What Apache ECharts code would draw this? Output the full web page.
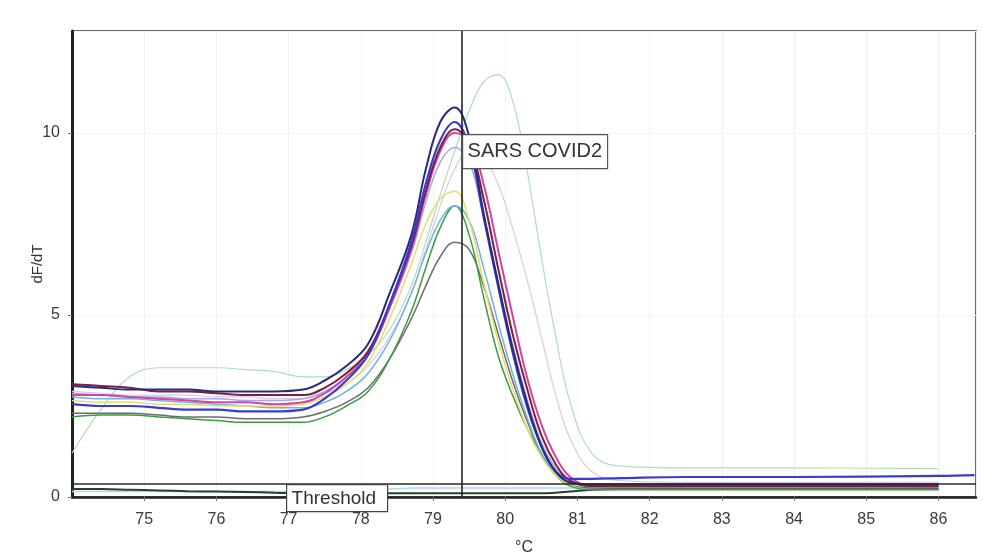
<!DOCTYPE html>
<html>
<head>
<meta charset="utf-8">
<script src="https://cdn.jsdelivr.net/npm/echarts@6/dist/echarts.min.js"></script>
<style>
  html, body { margin: 0; padding: 0; background: #fff; }
  #chart { width: 983px; height: 555px; }
</style>
</head>
<body>
<div id="chart"></div>
<script>
// temperatures (°C) the curves are sampled at
const temps = [74.0, 74.4, 74.8, 75.2, 75.6, 76.0, 76.4, 76.8, 77.2, 77.5, 77.8, 78.1, 78.4, 78.7, 78.9,
  79.1, 79.3, 79.5, 79.7, 79.9, 80.1, 80.3, 80.5, 80.7, 80.9, 81.2, 81.6, 82.5, 84.0, 86.0, 86.5];

// dF/dT melt curves
const lightGreen = [1.2, 2.4, 3.3, 3.55, 3.55, 3.55, 3.5, 3.45, 3.3, 3.3, 3.5, 3.9, 4.6, 5.8, 7.0,
  8.3, 9.5, 10.6, 11.4, 11.6, 10.9, 9.0, 6.6, 4.4, 2.6, 1.2, 0.85, 0.8, 0.8, 0.78, null];
const paleLilac = [2.9, 2.85, 2.8, 2.8, 2.8, 2.75, 2.75, 2.7, 2.7, 2.85, 3.1, 3.6, 4.4, 5.6, 6.8,
  8.0, 9.0, 9.5, 9.3, 8.6, 7.4, 6.0, 4.4, 2.8, 1.6, 0.7, 0.45, 0.4, 0.4, 0.4, null];
const gray = [2.3, 2.3, 2.3, 2.25, 2.2, 2.2, 2.15, 2.15, 2.2, 2.35, 2.6, 3.0, 3.8, 4.9, 5.8,
  6.6, 7.0, 6.8, 5.8, 4.5, 3.2, 2.1, 1.2, 0.6, 0.35, 0.25, 0.25, 0.25, 0.25, 0.25, null];
const green = [2.2, 2.25, 2.25, 2.2, 2.15, 2.1, 2.05, 2.05, 2.05, 2.2, 2.5, 2.9, 3.8, 5.1, 6.3,
  7.4, 8.0, 7.2, 5.5, 3.9, 2.8, 1.9, 1.2, 0.6, 0.3, 0.2, 0.2, 0.2, 0.2, 0.2, null];
const lightBlue = [2.75, 2.7, 2.7, 2.65, 2.6, 2.55, 2.5, 2.45, 2.45, 2.6, 2.9, 3.4, 4.3, 5.6, 6.7,
  7.6, 8.0, 7.6, 6.3, 4.8, 3.4, 2.2, 1.2, 0.65, 0.4, 0.3, 0.3, 0.3, 0.3, 0.3, null];
const yellow = [2.65, 2.6, 2.6, 2.55, 2.55, 2.5, 2.5, 2.5, 2.55, 2.75, 3.1, 3.7, 4.9, 6.4, 7.5,
  8.2, 8.4, 7.6, 5.9, 4.3, 3.0, 1.9, 1.1, 0.6, 0.35, 0.3, 0.3, 0.3, 0.3, 0.3, null];
const lavender = [2.85, 2.8, 2.75, 2.75, 2.7, 2.7, 2.65, 2.65, 2.7, 2.9, 3.3, 4.0, 5.2, 6.7, 8.1,
  9.2, 9.6, 9.2, 7.7, 5.9, 4.2, 2.7, 1.5, 0.8, 0.45, 0.35, 0.35, 0.35, 0.35, 0.35, null];
const magenta = [2.8, 2.8, 2.75, 2.7, 2.65, 2.6, 2.6, 2.55, 2.6, 2.85, 3.3, 3.9, 5.2, 6.8, 8.3,
  9.5, 10.0, 9.8, 8.6, 6.8, 5.0, 3.3, 2.0, 1.1, 0.55, 0.3, 0.3, 0.3, 0.3, 0.28, null];
const maroon = [3.1, 3.05, 3.0, 2.9, 2.9, 2.85, 2.8, 2.8, 2.8, 3.0, 3.4, 4.0, 5.3, 6.9, 8.4,
  9.6, 10.1, 9.7, 8.2, 6.3, 4.5, 3.0, 1.7, 0.9, 0.45, 0.3, 0.3, 0.3, 0.3, 0.3, null];
const blue = [2.55, 2.5, 2.5, 2.45, 2.4, 2.4, 2.35, 2.35, 2.4, 2.7, 3.2, 3.9, 5.3, 7.0, 8.6,
  9.8, 10.3, 9.6, 7.7, 5.8, 4.0, 2.5, 1.4, 0.7, 0.5, 0.5, 0.52, 0.55, 0.55, 0.58, 0.6];
const navy = [3.05, 3.0, 2.95, 2.95, 2.95, 2.9, 2.9, 2.9, 2.95, 3.2, 3.6, 4.2, 5.6, 7.2, 9.0,
  10.3, 10.7, 9.9, 7.8, 5.9, 4.1, 2.6, 1.4, 0.7, 0.4, 0.35, 0.35, 0.35, 0.35, 0.35, null];
// negative wells near zero
const darkFlat = [0.22, 0.22, 0.2, 0.18, 0.16, 0.15, 0.14, 0.12, 0.1, 0.1, 0.1, 0.1, 0.1, 0.1, 0.1,
  0.1, 0.1, 0.1, 0.1, 0.1, 0.1, 0.1, 0.1, 0.12, 0.15, 0.2, 0.22, 0.22, 0.22, 0.22, null];
const cyanFlat = [0.15, 0.15, 0.15, 0.15, 0.15, 0.15, 0.15, 0.15, 0.15, 0.18, 0.2, 0.2, 0.22, 0.25, 0.25,
  0.25, 0.25, 0.25, 0.25, 0.25, 0.25, 0.25, 0.25, 0.25, 0.25, 0.25, 0.25, 0.25, null, null, null];

const thresholdValue = 0.36;
const markerTemp = 79.4;

const curves = [
  { name: 'cyanFlat', values: cyanFlat, color: '#a8dcec', width: 1.5 },
  { name: 'darkFlat', values: darkFlat, color: '#25402f', width: 2 },
  { name: 'lightGreen', values: lightGreen, color: '#aedcbc', width: 1.2 },
  { name: 'paleLilac', values: paleLilac, color: '#dcc8e4', width: 1.2 },
  { name: 'gray', values: gray, color: '#6c6c6c', width: 1.5 },
  { name: 'green', values: green, color: '#3c9a42', width: 1.5 },
  { name: 'lightBlue', values: lightBlue, color: '#72b2e0', width: 1.5 },
  { name: 'yellow', values: yellow, color: '#e6dc6e', width: 1.5 },
  { name: 'lavender', values: lavender, color: '#a6a6ec', width: 1.5 },
  { name: 'magenta', values: magenta, color: '#d044a4', width: 2 },
  { name: 'maroon', values: maroon, color: '#7c2040', width: 2 },
  { name: 'blue', values: blue, color: '#3b3bd0', width: 2.2 },
  { name: 'navy', values: navy, color: '#2a2a7c', width: 2 }
];

const series = curves.map(c => ({
  name: c.name,
  type: 'line',
  data: temps.map((t, i) => [t, c.values[i]]),
  smooth: 0.4,
  showSymbol: false,
  lineStyle: { color: c.color, width: c.width },
  silent: true,
  z: 2
}));

// threshold and the melt-temperature marker
series.push({
  type: 'line',
  data: [],
  z: 3,
  markLine: {
    silent: true,
    symbol: 'none',
    label: { show: false },
    data: [
      { yAxis: thresholdValue, lineStyle: { color: '#2a2a2a', width: 1.6, type: 'solid' } },
      { xAxis: markerTemp, lineStyle: { color: '#222', width: 1.6, type: 'solid' } }
    ]
  }
});

const font = 'Liberation Sans';
const chart = echarts.init(document.getElementById('chart'));
chart.setOption({
  animation: false,
  backgroundColor: '#fff',
  grid: {
    left: 72, right: 7, top: 31, bottom: 58,
    outerBoundsMode: 'none',
    show: true, borderColor: '#3a3a3a', borderWidth: 1.5
  },
  xAxis: {
    type: 'value',
    min: 74, max: 86.52, interval: 1,
    name: '°C', nameLocation: 'middle', nameGap: 43, nameMoveOverlap: false,
    nameTextStyle: { fontFamily: font, fontSize: 16, color: '#333' },
    axisLine: { lineStyle: { color: '#222', width: 2.5 } },
    axisTick: { length: 4, lineStyle: { color: '#777' } },
    axisLabel: {
      fontFamily: font, fontSize: 16, color: '#3a3a3a', margin: 15,
      showMinLabel: false, showMaxLabel: false
    },
    splitLine: { show: true, lineStyle: { color: '#f2f2f2', width: 1 } }
  },
  yAxis: {
    type: 'value',
    min: 0, max: 12.8, interval: 5,
    name: 'dF/dT', nameLocation: 'middle', nameGap: 27, nameRotate: 90, nameMoveOverlap: false,
    nameTextStyle: { fontFamily: font, fontSize: 15, color: '#333' },
    axisLine: { lineStyle: { color: '#222', width: 3 } },
    axisTick: { length: 4, lineStyle: { color: '#777' } },
    axisLabel: {
      fontFamily: font, fontSize: 16, color: '#3a3a3a', margin: 12,
      showMaxLabel: false
    },
    splitLine: { show: true, lineStyle: { color: '#f4f4f4', width: 1 } }
  },
  series: series,
  graphic: [
    {
      type: 'group', left: 462, top: 134, z: 100,
      children: [
        { type: 'rect', z: 100, shape: { x: 0, y: 0, width: 145, height: 34 },
          style: { fill: '#fff', stroke: '#555', lineWidth: 1.2 } },
        { type: 'text', z: 101, x: 5, y: 17,
          style: { text: 'SARS COVID2', fill: '#333', font: '20px "Liberation Sans"', textVerticalAlign: 'middle' } }
      ]
    },
    {
      type: 'group', left: 286, top: 484, z: 100,
      children: [
        { type: 'rect', z: 100, shape: { x: 0, y: 0, width: 101, height: 27 },
          style: { fill: '#fff', stroke: '#444', lineWidth: 1.2 } },
        { type: 'text', z: 101, x: 5, y: 14,
          style: { text: 'Threshold', fill: '#333', font: '19px "Liberation Sans"', textVerticalAlign: 'middle' } }
      ]
    }
  ]
});
</script>
</body>
</html>
